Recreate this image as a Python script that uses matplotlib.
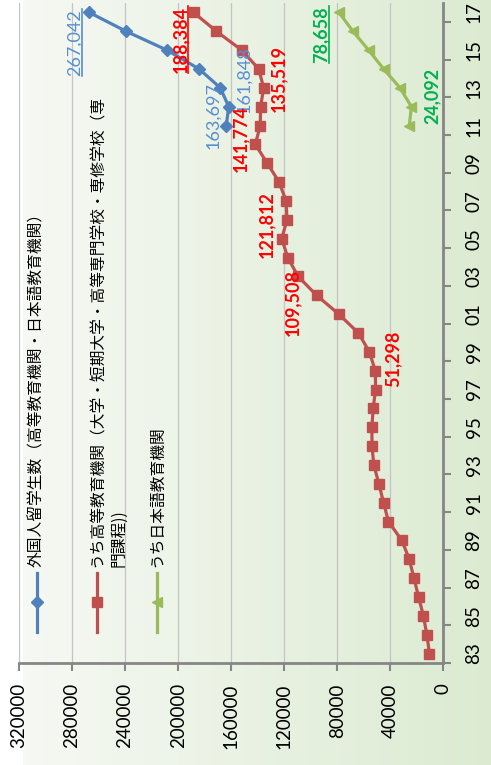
import numpy as np
import matplotlib
matplotlib.use("Agg")
import matplotlib.pyplot as plt
from matplotlib.lines import Line2D

# 年度 (1983-2017) と 留学生数
years = list(range(1983, 2018))
year_labels = [f"{y % 100:02d}" for y in years[::2]]

higher_ed = [10428, 12410, 15009, 18631, 22154, 25643, 31251, 41347, 45066, 48561,
             52405, 53787, 53847, 52921, 51047, 51298, 55755, 64011, 78812, 95550,
             109508, 117302, 121812, 117927, 118498, 123829, 132720, 141774, 138075,
             137756, 135519, 139185, 152062, 171122, 188384]
recent_years = list(range(2011, 2018))
total = [163697, 161848, 168145, 184155, 208379, 239287, 267042]
japanese_lang = [25622, 24092, 32626, 44970, 56317, 68165, 78658]

series_names = ["外国人留学生数（高等教育機関・日本語教育機関）",
                "うち高等教育機関（大学・短期大学・高等専門学校・専修学校（専",
                "うち日本語教育機関"]
name_wrap = "門課程))"

value_ticks = list(range(0, 320001, 40000))

BLUE, RED, GREEN = "#4F81BD", "#C0504D", "#9BBB59"
GRAY = "#868686"
W, H = 491, 765

fig = plt.figure(figsize=(W / 100, H / 100), dpi=100)
fig.patch.set_facecolor("white")

# 背景のグラデーション(白→薄緑)
bg = fig.add_axes([23 / W, 0, 1 - 23 / W, 1], zorder=-5)
left_c = np.array([0.965, 0.975, 0.955])
right_c = np.array([0.86, 0.92, 0.82])
t = np.linspace(0, 1, 256)
grad = (left_c[None, :] * (1 - t[:, None]) + right_c[None, :] * t[:, None])[None, :, :]
bg.imshow(grad, aspect="auto", extent=[0, 1, 0, 1])
bg.axis("off")

ax = fig.add_axes([19 / W, 1 - 663 / H, (443.3 - 19) / W, 660 / H])
ax.set_facecolor("none")

idx_all = np.arange(len(years))
idx_recent = np.array([years.index(y) for y in recent_years])

ax.plot(higher_ed, idx_all, color=RED, lw=2.3, marker="s", ms=6.5, zorder=3)
ax.plot(total, idx_recent, color=BLUE, lw=2.3, marker="D", ms=6, zorder=4)
ax.plot(japanese_lang, idx_recent, color=GREEN, lw=2.3, marker="<", ms=7, zorder=3)

ax.set_xlim(320000, 0)
ax.set_ylim(-0.5, len(years) - 0.5)

ax.set_xticks(value_ticks)
ax.set_xticklabels([str(v) for v in value_ticks], rotation=90, family="Lato", fontsize=13.5)
ax.tick_params(axis="x", length=5.5, width=1.5, color=GRAY, pad=9)
ax.grid(axis="x", color="#C4C4C4", lw=0.9)
ax.set_axisbelow(True)

ax.yaxis.tick_right()
ax.set_yticks(range(0, len(years), 2))
ax.set_yticklabels(year_labels, rotation=90, va="center", family="Lato", fontsize=13.5)
ax.set_yticks(np.arange(-0.5, len(years) - 1, 2), minor=True)
ax.tick_params(axis="y", which="major", length=0, pad=16)
ax.tick_params(axis="y", which="minor", length=5.5, width=1.5, color=GRAY)

for s in ["left", "top"]:
    ax.spines[s].set_visible(False)
for s in ["right", "bottom"]:
    ax.spines[s].set_color(GRAY)
    ax.spines[s].set_linewidth(2)

# データラベル: (系列, 年, オフセット(px), 色, 太字, 下線)
label_specs = [
    (total, recent_years, 2011, (-13, 10), "#558ED5", "normal", False),
    (total, recent_years, 2012, (15, 27), "#558ED5", "normal", False),
    (total, recent_years, 2017, (-14, -30), "#558ED5", "normal", True),
    (higher_ed, years, 1998, (18, 12), "#FF0000", "bold", False),
    (higher_ed, years, 2003, (-6, -26), "#FF0000", "bold", False),
    (higher_ed, years, 2005, (-15, 14), "#FF0000", "bold", False),
    (higher_ed, years, 2010, (-15, 6), "#FF0000", "bold", False),
    (higher_ed, years, 2013, (15, 9), "#FF0000", "bold", False),
    (higher_ed, years, 2017, (-13, -27), "#FF0000", "bold", True),
    (japanese_lang, recent_years, 2012, (21, 11), "#00B050", "bold", False),
    (japanese_lang, recent_years, 2017, (-18, -22), "#00B050", "bold", True),
]

underlined = []
for vals, yrs, yr, off, col, wt, ul in label_specs:
    v = vals[yrs.index(yr)]
    txt = ax.annotate(f"{v:,}", xy=(v, years.index(yr)), xytext=off,
                      textcoords="offset pixels", rotation=90, ha="center", va="center",
                      color=col, fontsize=13, fontweight=wt, family="Lato", zorder=6)
    if ul:
        underlined.append((txt, col))

# 凡例(手描き)
legend_x = [36.5, 97, 157]
legend_colors = [BLUE, RED, GREEN]
legend_markers = ["D", "s", "<"]
legend_ms = [6, 6.5, 7]
for x, c, m, ms, name in zip(legend_x, legend_colors, legend_markers, legend_ms, series_names):
    fx = x / W
    fig.add_artist(Line2D([fx, fx], [1 - 573 / H, 1 - 632 / H], color=c, lw=2.3,
                          transform=fig.transFigure))
    fig.add_artist(Line2D([fx], [1 - 602 / H], color=c, marker=m, ms=ms,
                          transform=fig.transFigure))
    fig.text(fx, 1 - 567 / H, name, rotation=90, ha="center", va="bottom",
             family="Noto Sans CJK JP", fontsize=11.3)
fig.text(119 / W, 1 - 567 / H, name_wrap, rotation=90, ha="center", va="bottom",
         family="Noto Sans CJK JP", fontsize=11.3)

# 下線はテキストの描画範囲から求める
fig.canvas.draw()
renderer = fig.canvas.get_renderer()
for txt, col in underlined:
    bb = txt.get_window_extent(renderer)
    ux = (bb.x1 - 1) / W
    fig.add_artist(Line2D([ux, ux], [bb.y0 / H, bb.y1 / H], color=col, lw=1.2,
                          transform=fig.transFigure, zorder=6))

fig.savefig("out.png", dpi=100)
